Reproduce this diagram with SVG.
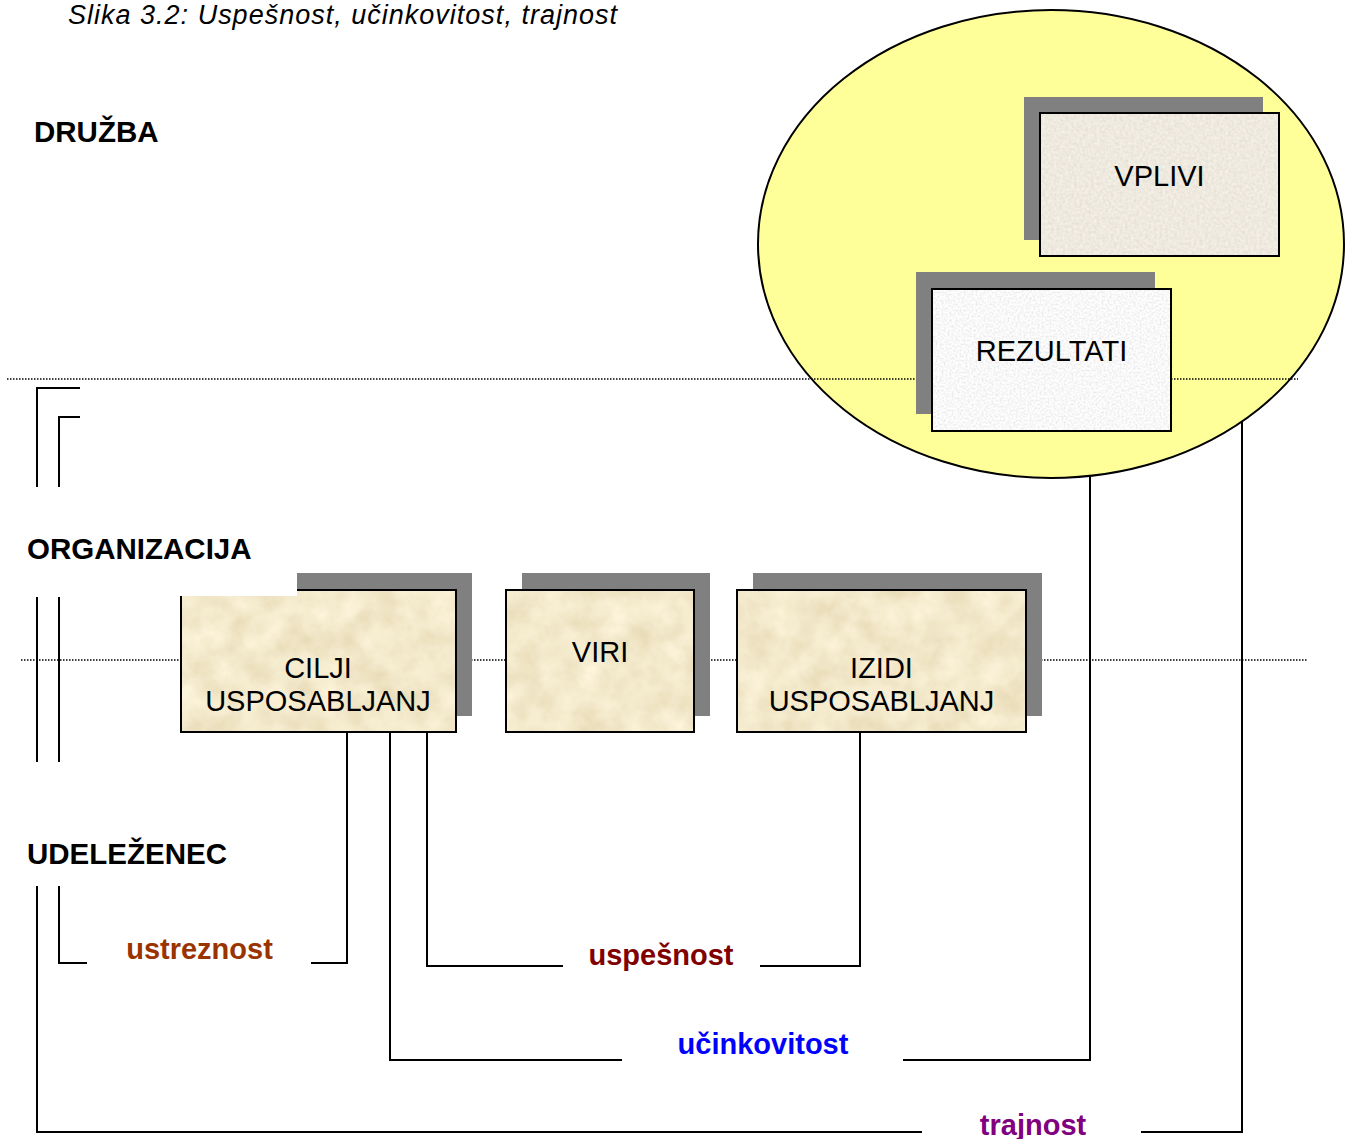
<svg xmlns="http://www.w3.org/2000/svg" width="1352" height="1139" viewBox="0 0 1352 1139">
<style>
  .lbl{font-family:"Liberation Sans",Arial,sans-serif;font-weight:bold;font-size:29.5px;fill:#000}
  .box{font-family:"Liberation Sans",Arial,sans-serif;font-size:29px;fill:#000;text-anchor:middle}
  .cl{font-family:"Liberation Sans",Arial,sans-serif;font-weight:bold;font-size:29px;text-anchor:middle}
  .ln{fill:none;stroke:#000;stroke-width:2}
  .dot{fill:none;stroke:#000;stroke-width:1.5;stroke-dasharray:1.5 1.5}
  .sh{fill:#808080}
  .frame{fill:none;stroke:#000;stroke-width:2}
</style>
<defs>
  <filter id="parch" x="0" y="0" width="100%" height="100%">
    <feTurbulence type="fractalNoise" baseFrequency="0.035" numOctaves="4" seed="7" result="n"/>
    <feColorMatrix in="n" type="matrix" values="0.25 0 0 0 0.77  0.28 0 0 0 0.67  0.35 0 0 0 0.42  0 0 0 0 1" result="c"/>
    <feComposite in="c" in2="SourceGraphic" operator="in"/>
  </filter>
  <filter id="stone" x="0" y="0" width="100%" height="100%">
    <feTurbulence type="fractalNoise" baseFrequency="0.35" numOctaves="2" seed="3" result="n"/>
    <feColorMatrix in="n" type="matrix" values="0.22 0 0 0 0.75  0.22 0 0 0 0.71  0.22 0 0 0 0.63  0 0 0 0 1" result="c"/>
    <feComposite in="c" in2="SourceGraphic" operator="in"/>
  </filter>
  <filter id="granite" x="0" y="0" width="100%" height="100%">
    <feTurbulence type="fractalNoise" baseFrequency="0.5" numOctaves="2" seed="5" result="n"/>
    <feColorMatrix in="n" type="matrix" values="0.4 0 0 0 0.74  0.4 0 0 0 0.74  0.4 0 0 0 0.74  0 0 0 0 1" result="c"/>
    <feComposite in="c" in2="SourceGraphic" operator="in"/>
  </filter>
</defs>
<rect width="1352" height="1139" fill="#fff"/>

<text x="68" y="24" font-family="'Liberation Sans',Arial,sans-serif" font-style="italic" font-size="27" textLength="549" lengthAdjust="spacing">Slika 3.2: Uspešnost, učinkovitost, trajnost</text>

<g id="labels">
  <text class="lbl" x="34" y="142">DRUŽBA</text>
  <text class="lbl" x="27" y="559">ORGANIZACIJA</text>
  <text class="lbl" x="27" y="864">UDELEŽENEC</text>
</g>

<g id="connectors">
  <polyline class="ln" points="80,388 37,388 37,487"/>
  <polyline class="ln" points="80,417 59,417 59,487"/>
  <line class="ln" x1="37" y1="597" x2="37" y2="762"/>
  <line class="ln" x1="59" y1="597" x2="59" y2="762"/>
  <polyline class="ln" points="59,886 59,963 87,963"/>
  <polyline class="ln" points="347,732 347,963 311,963"/>
  <polyline class="ln" points="427,730 427,966 563,966"/>
  <polyline class="ln" points="760,966 860,966 860,730"/>
  <polyline class="ln" points="390,732 390,1060 622,1060"/>
  <polyline class="ln" points="903,1060 1090,1060 1090,470"/>
  <polyline class="ln" points="37,886 37,1132 922,1132"/>
  <polyline class="ln" points="1141,1132 1242,1132 1242,417"/>
  <text class="cl" x="199.5" y="959" fill="#993300">ustreznost</text>
  <text class="cl" x="661" y="965" fill="#800000">uspešnost</text>
  <text class="cl" x="763" y="1054" fill="#0000FF">učinkovitost</text>
  <text class="cl" x="1033" y="1135" fill="#800080">trajnost</text>
</g>

<g id="druzba-ellipse">
  <ellipse cx="1051" cy="244" rx="293" ry="234" fill="#FFFF99" stroke="#000" stroke-width="2"/>
</g>

<g id="levels">
  <line class="dot" x1="7" y1="379" x2="1298" y2="379"/>
  <line class="dot" x1="21" y1="660" x2="1308" y2="660"/>
</g>

<g id="vplivi">
  <rect class="sh" x="1024" y="97" width="239" height="143"/>
  <rect x="1040" y="113" width="239" height="143" fill="#fff" filter="url(#stone)"/>
  <rect class="frame" x="1040" y="113" width="239" height="143"/>
  <text class="box" x="1159.5" y="186">VPLIVI</text>
</g>

<g id="rezultati">
  <rect class="sh" x="916" y="272" width="239" height="142"/>
  <rect x="932" y="289" width="239" height="142" fill="#fff" filter="url(#granite)"/>
  <rect class="frame" x="932" y="289" width="239" height="142"/>
  <text class="box" x="1051.5" y="361">REZULTATI</text>
</g>

<g id="cilji">
  <rect class="sh" x="297" y="573" width="175" height="143"/>
  <rect x="181" y="590" width="275" height="142" fill="#fff" filter="url(#parch)"/>
  <rect class="frame" x="181" y="590" width="275" height="142"/>
  <rect x="170" y="566" width="127" height="30" fill="#fff"/>
  <text class="box" x="318" y="678">CILJI</text>
  <text class="box" x="318" y="711">USPOSABLJANJ</text>
</g>

<g id="viri">
  <rect class="sh" x="522" y="573" width="188" height="143"/>
  <rect x="506" y="590" width="188" height="142" fill="#fff" filter="url(#parch)"/>
  <rect class="frame" x="506" y="590" width="188" height="142"/>
  <text class="box" x="600" y="662">VIRI</text>
</g>

<g id="izidi">
  <rect class="sh" x="753" y="573" width="289" height="143"/>
  <rect x="737" y="590" width="289" height="142" fill="#fff" filter="url(#parch)"/>
  <rect class="frame" x="737" y="590" width="289" height="142"/>
  <text class="box" x="881.5" y="678">IZIDI</text>
  <text class="box" x="881.5" y="711">USPOSABLJANJ</text>
</g>
</svg>
